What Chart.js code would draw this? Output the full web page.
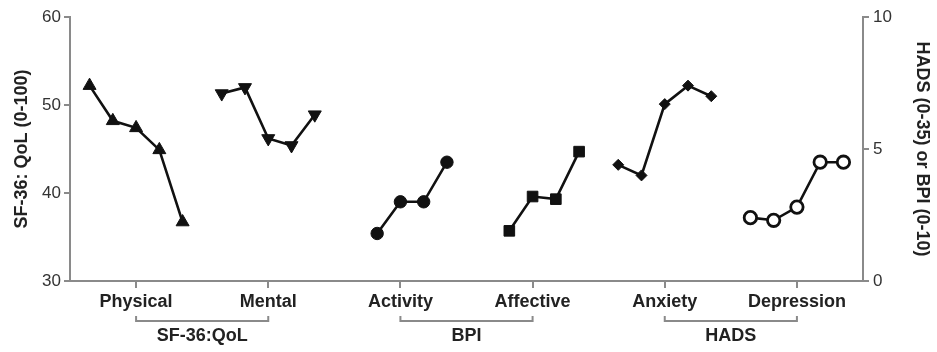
<!DOCTYPE html>
<html>
<head>
<meta charset="utf-8">
<script src="https://cdn.jsdelivr.net/npm/chart.js@4.4.1/dist/chart.umd.min.js"></script>
<style>
  html, body { margin: 0; padding: 0; background: #fff; }
  #wrap { width: 937px; height: 352px; position: relative; }
</style>
</head>
<body>
<div id="wrap"><canvas id="c" width="937" height="352"></canvas></div>
<script>
// ---- data ----
const categories = ['Physical', 'Mental', 'Activity', 'Affective', 'Anxiety', 'Depression'];
const groupLabels = ['SF-36:QoL', 'BPI', 'HADS'];
const physical   = [52.2, 48.2, 47.4, 44.9, 36.7];
const mental     = [51.3, 52.0, 46.2, 45.4, 48.9];
const activity   = [null, 1.8, 3.0, 3.0, 4.5];
const affective  = [null, 1.9, 3.2, 3.1, 4.9];
const anxiety    = [4.4, 4.0, 6.7, 7.4, 7.0];
const depression = [2.4, 2.3, 2.8, 4.5, 4.5];
const leftTicks  = [30, 40, 50, 60];
const rightTicks = [0, 5, 10];

const STEP = 0.176;
function pts(catIdx, vals) {
  return vals.map((v, k) => ({ x: catIdx + (k - 2) * STEP, y: v }));
}
function ds(catIdx, vals, axis, style, rotation, filled) {
  return {
    data: pts(catIdx, vals),
    yAxisID: axis,
    showLine: true,
    borderColor: '#111',
    borderWidth: 2.6,
    pointStyle: style,
    rotation: rotation || 0,
    pointRadius: style === 'triangle' ? 7.5 : (style === 'rect' ? 7.5 : (style === 'rectRot' ? 5.5 : 6.2)),
    pointBackgroundColor: filled ? '#111' : '#fff',
    pointBorderColor: '#111',
    pointBorderWidth: filled ? 1 : 2.8,
    spanGaps: false,
    tension: 0
  };
}

const groupPlugin = {
  id: 'groups',
  afterDraw(chart) {
    const ctx = chart.ctx;
    const x = chart.scales.x;
    const bottom = chart.chartArea.bottom;
    ctx.save();
    for (let g = 0; g < groupLabels.length; g++) {
      const x1 = x.getPixelForValue(g * 2);
      const x2 = x.getPixelForValue(g * 2 + 1);
      const yb = bottom + 40;
      ctx.strokeStyle = '#8a8a8a';
      ctx.lineWidth = 2;
      ctx.beginPath();
      ctx.moveTo(x1, yb - 5);
      ctx.lineTo(x1, yb);
      ctx.lineTo(x2, yb);
      ctx.lineTo(x2, yb - 5);
      ctx.stroke();
      ctx.fillStyle = '#222';
      ctx.font = 'bold 18px "Liberation Sans", Arial, sans-serif';
      ctx.textAlign = 'center';
      ctx.textBaseline = 'middle';
      ctx.fillText(groupLabels[g], (x1 + x2) / 2, bottom + 55);
    }
    ctx.restore();
  }
};

const axisColor = '#8a8a8a';
new Chart(document.getElementById('c'), {
  type: 'scatter',
  data: {
    datasets: [
      ds(0, physical, 'y', 'triangle', 0, true),
      ds(1, mental, 'y', 'triangle', 180, true),
      ds(2, activity, 'y1', 'circle', 0, true),
      ds(3, affective, 'y1', 'rect', 0, true),
      ds(4, anxiety, 'y1', 'rectRot', 0, true),
      ds(5, depression, 'y1', 'circle', 0, false)
    ]
  },
  options: {
    responsive: false,
    animation: false,
    layout: { padding: { top: 17, left: 0, right: 0, bottom: 0 } },
    plugins: { legend: { display: false }, tooltip: { enabled: false } },
    scales: {
      x: {
        type: 'linear',
        min: -0.5,
        max: 5.5,
        afterBuildTicks: s => { s.ticks = categories.map((_, i) => ({ value: i })); },
        afterFit: s => { s.height = 71; },
        ticks: {
          callback: v => categories[Math.round(v)],
          color: '#222',
          font: { family: '"Liberation Sans", Arial, sans-serif', size: 18, weight: 'bold' },
          padding: 3,
          maxRotation: 0,
          autoSkip: false
        },
        grid: { display: true, drawOnChartArea: false, drawTicks: true, tickLength: 7, color: axisColor, lineWidth: 2 },
        border: { display: true, color: axisColor, width: 2 }
      },
      y: {
        position: 'left',
        min: 30,
        max: 60,
        afterBuildTicks: s => { s.ticks = leftTicks.map(v => ({ value: v })); },
        afterFit: s => { s.width = 70; },
        ticks: {
          color: '#333',
          font: { family: '"Liberation Sans", Arial, sans-serif', size: 17 },
          padding: 3
        },
        grid: { display: true, drawOnChartArea: false, drawTicks: true, tickLength: 6, color: axisColor, lineWidth: 2 },
        border: { display: true, color: axisColor, width: 2 },
        title: {
          display: true,
          text: 'SF-36: QoL (0-100)',
          color: '#222',
          font: { family: '"Liberation Sans", Arial, sans-serif', size: 18, weight: 'bold' },
          padding: { top: 11, bottom: 0 }
        }
      },
      y1: {
        position: 'right',
        min: 0,
        max: 10,
        afterBuildTicks: s => { s.ticks = rightTicks.map(v => ({ value: v })); },
        afterFit: s => { s.width = 74; },
        ticks: {
          color: '#333',
          font: { family: '"Liberation Sans", Arial, sans-serif', size: 17 },
          padding: 4
        },
        grid: { display: true, drawOnChartArea: false, drawTicks: true, tickLength: 6, color: axisColor, lineWidth: 2 },
        border: { display: true, color: axisColor, width: 2 },
        title: {
          display: true,
          text: 'HADS (0-35) or BPI (0-10)',
          color: '#222',
          font: { family: '"Liberation Sans", Arial, sans-serif', size: 18, weight: 'bold' },
          padding: { top: 4, bottom: 0 }
        }
      }
    }
  },
  plugins: [groupPlugin]
});
</script>
</body>
</html>
